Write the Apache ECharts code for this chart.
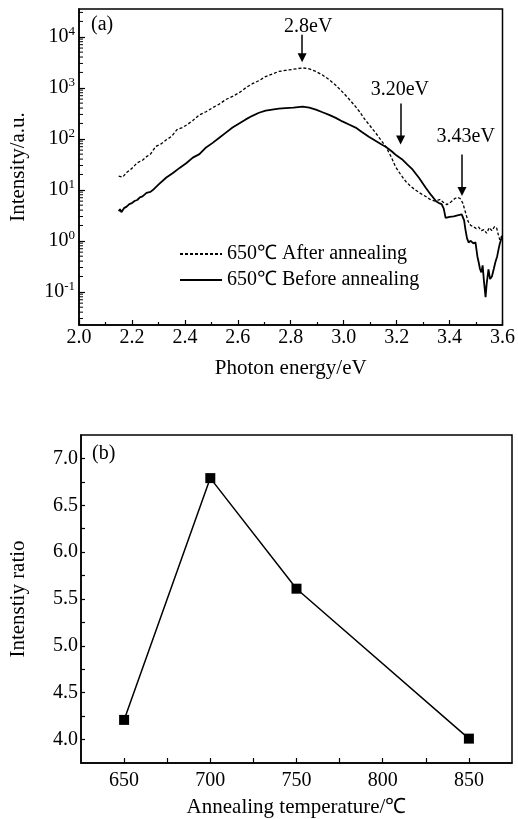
<!DOCTYPE html>
<html><head><meta charset="utf-8">
<script src="https://cdn.jsdelivr.net/npm/echarts@6/dist/echarts.min.js"></script>
<style>html,body{margin:0;padding:0;background:#fff}#c{width:518px;height:819px}</style>
</head><body><div id="c"></div>
<script>
// ---------- Panel (a): PL spectra ----------
const seriesNames = ['650℃ After annealing', '650℃ Before annealing'];
const energyAfter = [2.150,2.165,2.180,2.200,2.220,2.240,2.255,2.270,2.290,2.310,2.330,2.350,2.370,2.390,2.410,2.430,2.455,2.480,2.505,2.530,2.555,2.580,2.610,2.630,2.655,2.680,2.705,2.730,2.755,2.780,2.806,2.825,2.845,2.870,2.895,2.920,2.945,2.970,2.995,3.020,3.045,3.060,3.080,3.100,3.120,3.140,3.160,3.180,3.195,3.215,3.235,3.255,3.270,3.290,3.310,3.330,3.345,3.365,3.375,3.390,3.405,3.420,3.430,3.440,3.450,3.460,3.470,3.480,3.490,3.500,3.510,3.520,3.530,3.540,3.550,3.560,3.570,3.578,3.585,3.590,3.595];
const intensityAfter = [18.6,17.8,21.9,26.3,33.9,38.0,44.7,50.1,70.8,79.4,95.5,112,151,166,191,229,295,339,407,479,589,676,832,1000,1202,1380,1660,1862,2089,2188,2291,2371,2455,2344,2089,1778,1445,1122,832,603,427,339,240,178,132,95.5,69.2,43.7,28.8,20.0,14.5,11.5,10.0,8.51,7.41,6.31,6.03,6.46,5.75,5.13,5.75,6.76,7.08,6.76,5.50,3.63,2.40,2.00,1.91,1.74,1.86,1.58,1.66,1.41,1.82,1.58,1.91,1.78,1.26,1.05,1.20];
const energyBefore = [2.150,2.155,2.160,2.170,2.180,2.190,2.200,2.210,2.220,2.230,2.240,2.255,2.270,2.280,2.300,2.330,2.355,2.380,2.405,2.430,2.455,2.480,2.505,2.530,2.555,2.580,2.605,2.630,2.655,2.680,2.705,2.730,2.755,2.780,2.810,2.845,2.870,2.895,2.920,2.945,2.970,2.995,3.020,3.045,3.070,3.095,3.120,3.140,3.160,3.180,3.200,3.220,3.240,3.260,3.285,3.310,3.330,3.350,3.360,3.370,3.378,3.385,3.392,3.400,3.416,3.430,3.446,3.455,3.460,3.466,3.472,3.480,3.490,3.498,3.505,3.510,3.515,3.520,3.525,3.530,3.536,3.540,3.547,3.553,3.560,3.567,3.573,3.580,3.585,3.590,3.595,3.598];
const intensityBefore = [3.80,4.17,3.63,4.37,4.68,5.25,5.50,6.03,6.31,7.08,7.41,8.71,9.12,10.0,12.6,17.4,21.4,26.9,33.1,42.7,50.1,67.6,83.2,105,132,166,200,240,282,324,355,372,389,398,407,427,407,372,331,295,257,219,191,166,135,110,91.2,79.4,69.2,57.5,46.8,39.8,31.6,25.1,17.0,11.0,7.94,5.89,5.50,5.25,4.27,2.82,2.63,2.95,3.02,3.16,3.31,2.51,1.66,1.12,0.93,1.00,0.89,0.93,0.50,0.38,0.28,0.24,0.33,0.16,0.079,0.14,0.275,0.178,0.20,0.28,0.38,0.50,0.68,0.89,1.07,1.26];
const peakLabels = ['2.8eV', '3.20eV', '3.43eV'];
const energyRange = [2.0, 3.6];
const intensityRange = [0.0224, 35000];
const logDecades = [-2, -1, 0, 1, 2, 3, 4];
const logMinorMultipliers = [2, 3, 4, 5, 6, 7, 8, 9];

// ---------- Panel (b): intensity ratio ----------
const temperatures = [650, 700, 750, 850];
const intensityRatio = [4.21, 6.79, 5.61, 4.01];
const temperatureRange = [625, 875];
const ratioRange = [3.75, 7.25];

const FONT = "'Liberation Serif','Times New Roman',serif";
const minorTickValues = [];
logDecades.forEach(d => logMinorMultipliers.forEach(m => {
  const v = m * Math.pow(10, d);
  if (v > intensityRange[0] && v < intensityRange[1]) minorTickValues.push([energyRange[0], v]);
}));

const chart = echarts.init(document.getElementById('c'), null, {renderer: 'canvas'});
const black = '#000';
const axisLineStyle = {show: true, lineStyle: {color: black, width: 1.5}};

chart.setOption({
  animation: false,
  backgroundColor: '#fff',
  textStyle: {fontFamily: FONT, color: black},
  grid: [
    {left: 79, right: 14, top: 9, height: 316, show: true, borderColor: black, borderWidth: 1.5, backgroundColor: 'transparent'},
    {left: 79, right: 6, top: 435, height: 328, show: true, borderColor: black, borderWidth: 1.5, backgroundColor: 'transparent'}
  ],
  legend: {
    data: seriesNames, left: 174, top: 239, orient: 'vertical',
    itemWidth: 42, itemHeight: 10, itemGap: 6,
    itemStyle: {color: 'rgba(0,0,0,0)', borderColor: 'rgba(0,0,0,0)', borderWidth: 0, opacity: 0},
    textStyle: {fontSize: 20, lineHeight: 20, color: black, fontFamily: FONT}
  },
  graphic: [
    {type: 'text', left: 91, top: 15, style: {text: '(a)', font: '20px ' + FONT, fill: black}},
    {type: 'text', left: 92, top: 444, style: {text: '(b)', font: '20px ' + FONT, fill: black}}
  ],
  xAxis: [
    {
      gridIndex: 0, type: 'value', min: energyRange[0], max: energyRange[1], interval: 0.2,
      name: 'Photon energy/eV', nameLocation: 'middle', nameGap: 33,
      nameTextStyle: {fontSize: 21, color: black, fontFamily: FONT},
      axisLine: axisLineStyle,
      axisTick: {inside: true, length: 5, lineStyle: {color: black, width: 1.2}},
      minorTick: {show: true, splitNumber: 2, length: 3, lineStyle: {color: black, width: 1.2}},
      splitLine: {show: false},
      axisLabel: {fontSize: 20, color: black, margin: 3, fontFamily: FONT, formatter: v => v.toFixed(1)}
    },
    {
      gridIndex: 1, type: 'value', min: temperatureRange[0], max: temperatureRange[1], interval: 25,
      name: 'Annealing temperature/℃', nameLocation: 'middle', nameGap: 34,
      nameTextStyle: {fontSize: 21, color: black, fontFamily: FONT},
      axisLine: axisLineStyle,
      axisTick: {inside: true, length: 5, lineStyle: {color: black, width: 1.2}},
      splitLine: {show: false},
      axisLabel: {fontSize: 20, color: black, margin: 8, fontFamily: FONT, showMinLabel: false, showMaxLabel: false,
        formatter: v => (v % 50 === 0 ? String(v) : '')}
    }
  ],
  yAxis: [
    {
      gridIndex: 0, type: 'log', logBase: 10, min: intensityRange[0], max: intensityRange[1],
      name: 'Intensity/a.u.', nameLocation: 'middle', nameGap: 50,
      nameTextStyle: {fontSize: 21, color: black, fontFamily: FONT},
      axisLine: axisLineStyle,
      axisTick: {inside: true, length: 6, lineStyle: {color: black, width: 1.2}},
      splitLine: {show: false}, minorSplitLine: {show: false},
      axisLabel: {
        margin: 4, showMinLabel: false, showMaxLabel: false, fontFamily: FONT,
        formatter: v => {
          const e = Math.log10(v), r = Math.round(e);
          if (Math.abs(e - r) > 1e-6) return '';
          return '{b|10}{s|' + r + '}';
        },
        rich: {
          b: {fontSize: 20, lineHeight: 24, color: black, fontFamily: FONT},
          s: {fontSize: 13, lineHeight: 13, verticalAlign: 'top', color: black, fontFamily: FONT}
        }
      }
    },
    {
      gridIndex: 1, type: 'value', min: ratioRange[0], max: ratioRange[1], interval: 0.25,
      name: 'Intenstiy ratio', nameLocation: 'middle', nameGap: 52,
      nameTextStyle: {fontSize: 21, color: black, fontFamily: FONT},
      axisLine: axisLineStyle,
      axisTick: {inside: true, length: 4, lineStyle: {color: black, width: 1.2}},
      splitLine: {show: false},
      axisLabel: {fontSize: 20, color: black, margin: 3, fontFamily: FONT, showMinLabel: false, showMaxLabel: false,
        formatter: v => (Math.abs(v * 2 - Math.round(v * 2)) < 1e-6 ? v.toFixed(1) : '')}
    }
  ],
  series: [
    {
      name: seriesNames[0], type: 'line', xAxisIndex: 0, yAxisIndex: 0,
      data: energyAfter.map((e, i) => [e, intensityAfter[i]]),
      symbol: 'none', smooth: false, color: black,
      lineStyle: {color: black, width: 1.3, type: [3, 2]},
      markLine: {
        silent: true, symbol: ['none', 'triangle'], symbolSize: 9, animation: false,
        label: {show: false},
        lineStyle: {color: black, width: 1.5, type: 'solid'},
        data: [
          [{coord: [2.843, 10965]}, {coord: [2.843, 3890]}],
          [{coord: [3.215, 490]}, {coord: [3.215, 95]}],
          [{coord: [3.447, 49]}, {coord: [3.447, 9.3]}]
        ]
      },
      markPoint: {
        silent: true, symbol: 'circle', symbolSize: 0, animation: false,
        label: {show: true, position: 'inside', formatter: '{b}', color: black, fontSize: 20, fontFamily: FONT},
        data: [
          {name: peakLabels[0], coord: [2.866, 16000]},
          {name: peakLabels[1], coord: [3.212, 900]},
          {name: peakLabels[2], coord: [3.461, 112]}
        ]
      }
    },
    {
      name: seriesNames[1], type: 'line', xAxisIndex: 0, yAxisIndex: 0,
      data: energyBefore.map((e, i) => [e, intensityBefore[i]]),
      symbol: 'none', smooth: false, color: black,
      lineStyle: {color: black, width: 1.8, type: 'solid'}
    },
    {
      name: 'logMinorTicks', type: 'custom', xAxisIndex: 0, yAxisIndex: 0, silent: true,
      data: minorTickValues,
      renderItem: (params, api) => {
        const p = api.coord([api.value(0), api.value(1)]);
        return {type: 'line', shape: {x1: p[0], y1: p[1], x2: p[0] + 4, y2: p[1]}, style: {stroke: black, lineWidth: 1}};
      }
    },
    {
      name: 'Intensity ratio', type: 'line', xAxisIndex: 1, yAxisIndex: 1,
      data: temperatures.map((t, i) => [t, intensityRatio[i]]),
      symbol: 'rect', symbolSize: 10, color: black,
      itemStyle: {color: black},
      lineStyle: {color: black, width: 1.5}
    }
  ]
});
</script>
</body></html>
